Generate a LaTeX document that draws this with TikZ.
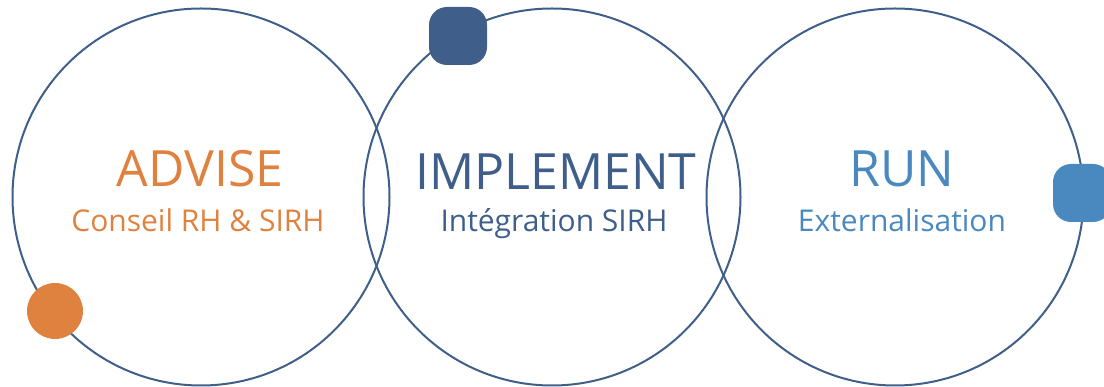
\documentclass[tikz,border=0pt]{standalone}
\usepackage{fontspec}
\setmainfont{Open Sans}
\usepackage[HTML]{xcolor}
\usepackage{tikz}
\usetikzlibrary{positioning}

\definecolor{advorange}{HTML}{E0823F}
\definecolor{impblue}{HTML}{3F5F8A}
\definecolor{runblue}{HTML}{4A89C0}

\begin{document}
\begin{tikzpicture}[x=1pt,y=1pt,
  ring/.style={circle,draw=impblue,line width=2pt,minimum size=377pt,inner sep=0pt},
  dot/.style={circle,minimum size=56pt,inner sep=0pt},
  tag/.style={rectangle,rounded corners=18pt,minimum size=58pt,inner sep=0pt},
  ttl/.style={anchor=base,inner sep=0pt,font=\fontsize{50}{50}\selectfont},
  sub/.style={anchor=base,inner sep=0pt,font=\fontsize{30}{30}\selectfont}]
\useasboundingbox (0,0) rectangle (1104,387);

\node[ring] (advise) at (201,190) {};
\node[ring] (implement) at (552,190) {};
\node[ring] (run) at (895,190) {};

\node[dot,fill=advorange] (advdot) at (55,76) {};
\node[tag,fill=impblue] (impdot) at (458,351) {};
\node[tag,fill=runblue] (rundot) at (1082,194) {};

\node[ttl,text=advorange] (advisettl) at (200,200) {ADVISE};
\node[sub,text=advorange] (advisesub) at (198,155) {Conseil RH \& SIRH};
\node[ttl,text=impblue] (impttl) at (556,197) {IMPLEMENT};
\node[sub,text=impblue] (impsub) at (554,155) {Intégration SIRH};
\node[ttl,text=runblue] (runttl) at (902,200) {RUN};
\node[sub,text=runblue] (runsub) at (902,155) {Externalisation};
\end{tikzpicture}
\end{document}
